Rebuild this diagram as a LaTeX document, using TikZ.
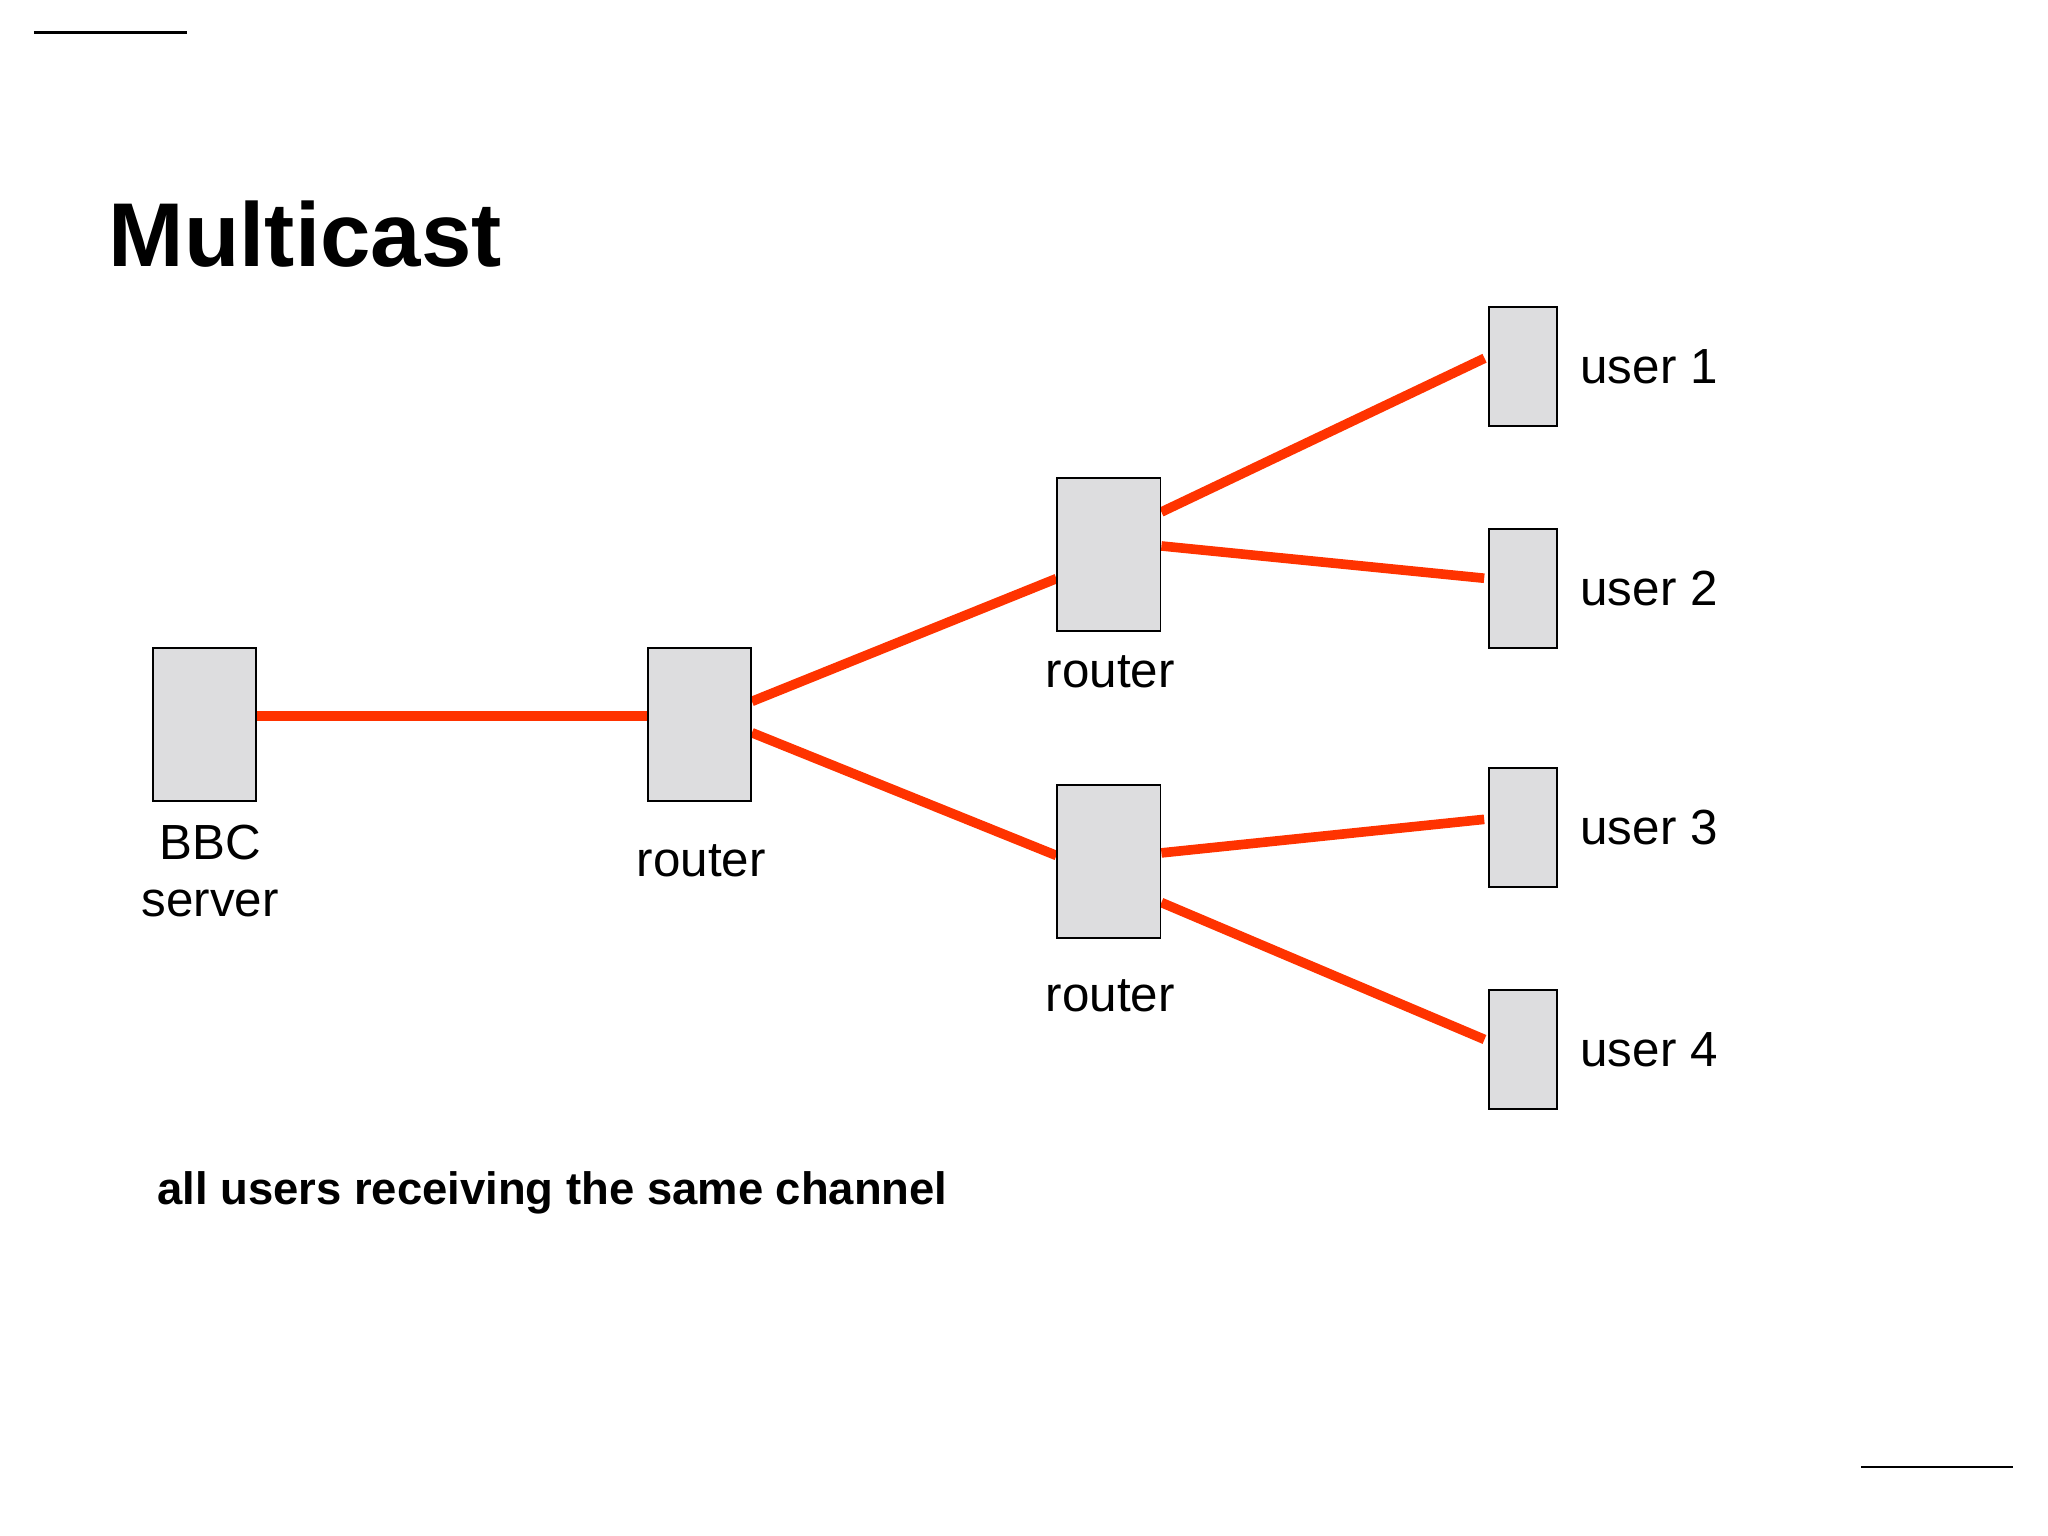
\documentclass[tikz,border=0pt]{standalone}
\usepackage{fontspec}
\setmainfont{Liberation Sans}
\usepackage{xcolor}
\usetikzlibrary{positioning,calc,backgrounds}

\begin{document}
\begin{tikzpicture}[x=0.02cm,y=-0.02cm,line cap=butt,line join=miter,
    box/.style={draw=black,line width=0.8pt,fill=boxgray,inner sep=0pt},
    hostbox/.style={box,minimum width=1.58cm,minimum height=2.34cm},
    userbox/.style={box,minimum width=1.04cm,minimum height=1.82cm},
    link/.style={draw=linkred,line width=4.2pt},
    lbl/.style={inner sep=0pt,font=\fontsize{21.5}{25}\selectfont}]
  \definecolor{boxgray}{RGB}{221,221,223}
  \definecolor{linkred}{RGB}{255,51,0}

  % page frame
  \useasboundingbox (0,0) rectangle (1568,1176);
  \draw[line width=1.1pt] (26,25) -- (143,25);
  \draw[line width=1.1pt] (1425,1123) -- (1541,1123);

  % title and caption
  \node[inner sep=0pt,anchor=base west,font=\fontsize{39.5}{46}\selectfont\bfseries] (title) at (83,204) {Multicast};
  \node[inner sep=0pt,anchor=base west,font=\fontsize{19.8}{24}\selectfont\bfseries] (caption) at (120,922) {all users receiving the same channel};

  % server and routers
  \node[hostbox] (srv) at (156.5,554.5) {};
  \node[hostbox] (r1) at (535.5,554.5) {};
  \node[hostbox] (r2) at (849,424.5) {};
  \node[hostbox] (r3) at (849,659.5) {};

  \node[lbl,align=center] (srvl) at ($(srv.south)+(4.5,53)$) {BBC\\server};
  \node[lbl] (r1l) at ($(r1.south)+(1.5,45)$) {router};
  \node[lbl] (r2l) at ($(r2.south)+(1,31)$) {router};
  \node[lbl] (r3l) at ($(r3.south)+(1,44)$) {router};

  % users
  \foreach \n/\yy in {1/280.5, 2/450.5, 3/633.5, 4/803.5}{
    \node[userbox] (u\n) at (1166,\yy) {};
    \node[lbl,anchor=west] (ul\n) at ($(u\n.east)+(17,0)$) {user \n};
  }

  % links
  \begin{scope}[on background layer]
    \draw[link] ($(srv.east)+(0,-6.5)$) -- ($(r1.west)+(0,-6.5)$);
    \draw[link] ($(r1.east)+(0,-17.5)$) -- ($(r2.west)+(0,18.5)$);
    \draw[link] ($(r1.east)+(0,6.5)$) -- ($(r3.west)+(0,-4.5)$);
    \draw[link,shorten >=0.06cm] ($(r2.east)+(0,-32.5)$) -- ($(u1.west)+(0,-7.5)$);
    \draw[link,shorten >=0.06cm] ($(r2.east)+(0,-6.5)$) -- ($(u2.west)+(0,-7.5)$);
    \draw[link,shorten >=0.06cm] ($(r3.east)+(0,-6.5)$) -- ($(u3.west)+(0,-6.5)$);
    \draw[link,shorten >=0.06cm] ($(r3.east)+(0,31.5)$) -- ($(u4.west)+(0,-6.5)$);
  \end{scope}
\end{tikzpicture}
\end{document}
